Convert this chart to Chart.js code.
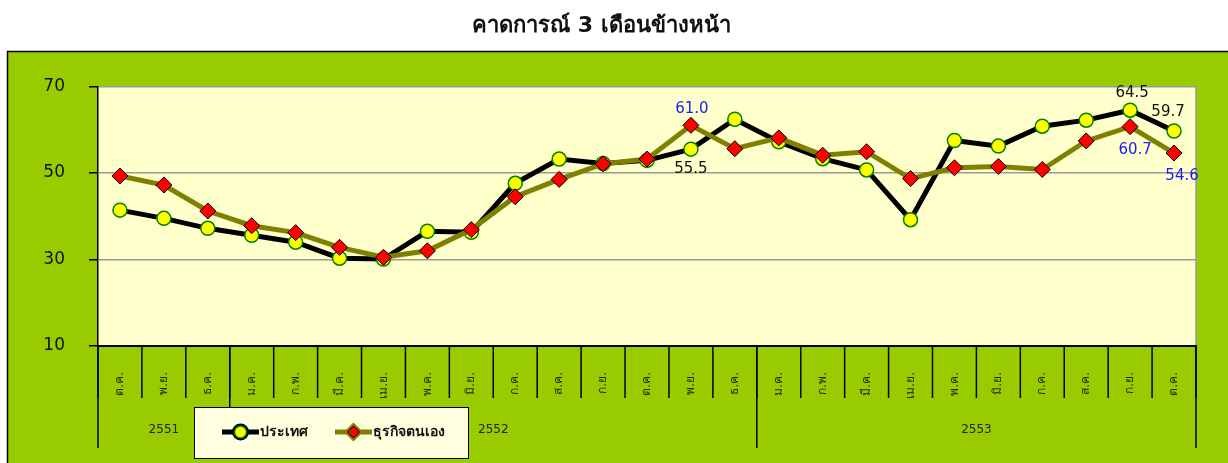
<!DOCTYPE html>
<html lang="th">
<head>
<meta charset="UTF-8">
<title>คาดการณ์ 3 เดือนข้างหน้า</title>
<script src="https://cdn.jsdelivr.net/npm/chart.js"></script>
<style>
    body { margin: 0; background: #fff; }
    #wrap { width: 1228px; height: 463px; }
</style>
</head>
<body>
<div id="wrap"><canvas id="grafico" width="1228" height="463"></canvas></div>
<script>
// dati
const mesi = ['ต.ค.', 'พ.ย.', 'ธ.ค.',
    'ม.ค.', 'ก.พ.', 'มี.ค.', 'เม.ย.', 'พ.ค.', 'มิ.ย.', 'ก.ค.', 'ส.ค.', 'ก.ย.', 'ต.ค.', 'พ.ย.', 'ธ.ค.',
    'ม.ค.', 'ก.พ.', 'มี.ค.', 'เม.ย.', 'พ.ค.', 'มิ.ย.', 'ก.ค.', 'ส.ค.', 'ก.ย.', 'ต.ค.'];
const anni = ['2551', '2552', '2553'];
const mesiPerAnno = [3, 12, 10];

const prathet = [41.4, 39.5, 37.2, 35.6, 34.0, 30.3, 30.1, 36.5, 36.3, 47.6, 53.2, 52.2, 52.9,
    55.5, 62.4, 57.2, 53.3, 50.7, 39.2, 57.5, 56.2, 60.8, 62.2, 64.5, 59.7];
const thurakit = [49.3, 47.2, 41.2, 37.8, 36.2, 32.8, 30.5, 32.0, 36.9, 44.5, 48.5, 52.1, 53.2,
    61.0, 55.6, 58.1, 54.1, 54.9, 48.7, 51.2, 51.5, 50.8, 57.4, 60.7, 54.6];

const yTicks = [10, 30, 50, 70];

// punti con etichetta del valore
const etichettePrathet = [13, 23, 24];
const etichetteThurakit = [13, 23, 24];

const fontBase = '"DejaVu Sans", "Noto Sans", sans-serif';

const sfondo = {
    id: 'sfondo',
    beforeDraw(chart) {
        const ctx = chart.ctx;
        const a = chart.chartArea;
        ctx.save();
        ctx.fillStyle = '#99cc00';
        ctx.fillRect(7, 51, chart.width - 7, chart.height - 51);
        ctx.strokeStyle = '#000';
        ctx.lineWidth = 1.5;
        ctx.beginPath();
        ctx.moveTo(7.5, chart.height);
        ctx.lineTo(7.5, 51.5);
        ctx.lineTo(chart.width, 51.5);
        ctx.stroke();
        ctx.fillStyle = '#ffffcc';
        ctx.fillRect(a.left, a.top, a.right - a.left, a.bottom - a.top);
        ctx.strokeStyle = '#999';
        ctx.lineWidth = 1.5;
        ctx.beginPath();
        ctx.moveTo(a.right, a.top);
        ctx.lineTo(a.right, a.bottom);
        ctx.stroke();
        ctx.restore();
    }
};

const assi = {
    id: 'assi',
    afterDraw(chart) {
        const ctx = chart.ctx;
        const x = chart.scales.x;
        const a = chart.chartArea;
        const n = mesi.length;
        const bordo = i => {
            if (i <= 0) return a.left;
            if (i >= n) return a.right;
            return (x.getPixelForValue(i - 1) + x.getPixelForValue(i)) / 2;
        };
        ctx.save();
        ctx.strokeStyle = '#000';
        ctx.lineWidth = 1.5;
        // separatori dei mesi
        for (let i = 0; i <= n; i++) {
            ctx.beginPath();
            ctx.moveTo(bordo(i), a.bottom);
            ctx.lineTo(bordo(i), a.bottom + 52);
            ctx.stroke();
        }
        // separatori e etichette degli anni
        let inizio = 0;
        ctx.fillStyle = '#222';
        ctx.font = '12px ' + fontBase;
        ctx.textAlign = 'center';
        ctx.textBaseline = 'middle';
        for (let k = 0; k <= anni.length; k++) {
            ctx.beginPath();
            ctx.moveTo(bordo(inizio), a.bottom);
            ctx.lineTo(bordo(inizio), a.bottom + 102);
            ctx.stroke();
            if (k < anni.length) {
                const fine = inizio + mesiPerAnno[k];
                ctx.fillText(anni[k], (bordo(inizio) + bordo(fine)) / 2, a.bottom + 84);
                inizio = fine;
            }
        }

        // etichette dei valori
        ctx.font = '15px ' + fontBase;
        const metaP = chart.getDatasetMeta(1);
        const metaT = chart.getDatasetMeta(0);
        const offP = { 13: [0, 20], 23: [2, -17], 24: [-6, -19] };
        const offT = { 13: [1, -16], 23: [5, 23], 24: [8, 23] };
        ctx.fillStyle = '#111';
        etichettePrathet.forEach(i => {
            const p = metaP.data[i];
            ctx.fillText(prathet[i].toFixed(1), p.x + offP[i][0], p.y + offP[i][1]);
        });
        ctx.fillStyle = '#1a1aff';
        etichetteThurakit.forEach(i => {
            const p = metaT.data[i];
            ctx.fillText(thurakit[i].toFixed(1), p.x + offT[i][0], p.y + offT[i][1]);
        });

        // legenda
        const lx = 194, ly = 407, lw = 274, lh = 51;
        ctx.fillStyle = '#ffffe0';
        ctx.fillRect(lx, ly, lw, lh);
        ctx.strokeStyle = '#000';
        ctx.lineWidth = 1;
        ctx.strokeRect(lx + 0.5, ly + 0.5, lw, lh);
        const voci = [chart.data.datasets[1], chart.data.datasets[0]];
        const xs = [222, 335];
        ctx.font = 'bold 14px ' + fontBase;
        ctx.textAlign = 'left';
        voci.forEach((ds, j) => {
            const cy = ly + 25;
            ctx.strokeStyle = ds.borderColor;
            ctx.lineWidth = 5;
            ctx.beginPath();
            ctx.moveTo(xs[j], cy);
            ctx.lineTo(xs[j] + 37, cy);
            ctx.stroke();
            Chart.helpers.drawPoint(ctx, {
                pointStyle: ds.pointStyle,
                radius: 6,
                borderWidth: ds.pointBorderWidth
            }, xs[j] + 18.5, cy);
            ctx.fillStyle = ds.pointBackgroundColor;
            ctx.strokeStyle = ds.pointBorderColor;
            ctx.lineWidth = ds.pointBorderWidth;
            ctx.fill();
            ctx.stroke();
            ctx.fillStyle = '#111';
            ctx.fillText(ds.label, xs[j] + 38, cy);
        });
        ctx.restore();
    }
};

new Chart(document.getElementById('grafico'), {
    type: 'line',
    data: {
        labels: mesi,
        datasets: [
            {
                label: 'ธุรกิจตนเอง',
                data: thurakit,
                borderColor: '#808000',
                borderWidth: 5,
                pointStyle: 'rectRot',
                pointRadius: 8,
                pointBackgroundColor: '#ff0000',
                pointBorderColor: '#000',
                pointBorderWidth: 1,
                tension: 0
            },
            {
                label: 'ประเทศ',
                data: prathet,
                borderColor: '#000',
                borderWidth: 5,
                pointStyle: 'circle',
                pointRadius: 7,
                pointBackgroundColor: '#ffff00',
                pointBorderColor: '#008000',
                pointBorderWidth: 1.5,
                tension: 0
            }
        ]
    },
    options: {
        responsive: false,
        animation: false,
        events: [],
        layout: { padding: { left: 7, right: 32, top: 0, bottom: 0 } },
        plugins: {
            legend: { display: false },
            tooltip: { enabled: false },
            title: {
                display: true,
                text: 'คาดการณ์ 3 เดือนข้างหน้า',
                color: '#111',
                font: { family: fontBase, size: 22, weight: 'bold' },
                padding: { top: 13, bottom: 47 }
            }
        },
        scales: {
            x: {
                offset: true,
                grid: { display: false },
                border: { color: '#000', width: 2 },
                ticks: {
                    autoSkip: false,
                    minRotation: 90,
                    maxRotation: 90,
                    padding: 18,
                    color: '#2b2b00',
                    font: { family: fontBase, size: 12 }
                },
                afterFit(s) { s.height = 117; }
            },
            y: {
                min: 10,
                max: 70,
                afterBuildTicks(s) { s.ticks = yTicks.map(v => ({ value: v })); },
                grid: { color: '#999', lineWidth: 1.5, tickLength: 9, tickColor: '#000', tickWidth: 1.5 },
                border: { color: '#000', width: 1.5 },
                ticks: {
                    padding: 24,
                    color: '#111',
                    font: { family: fontBase, size: 17 }
                },
                afterFit(s) { s.width = 91; }
            }
        }
    },
    plugins: [sfondo, assi]
});
</script>
</body>
</html>
